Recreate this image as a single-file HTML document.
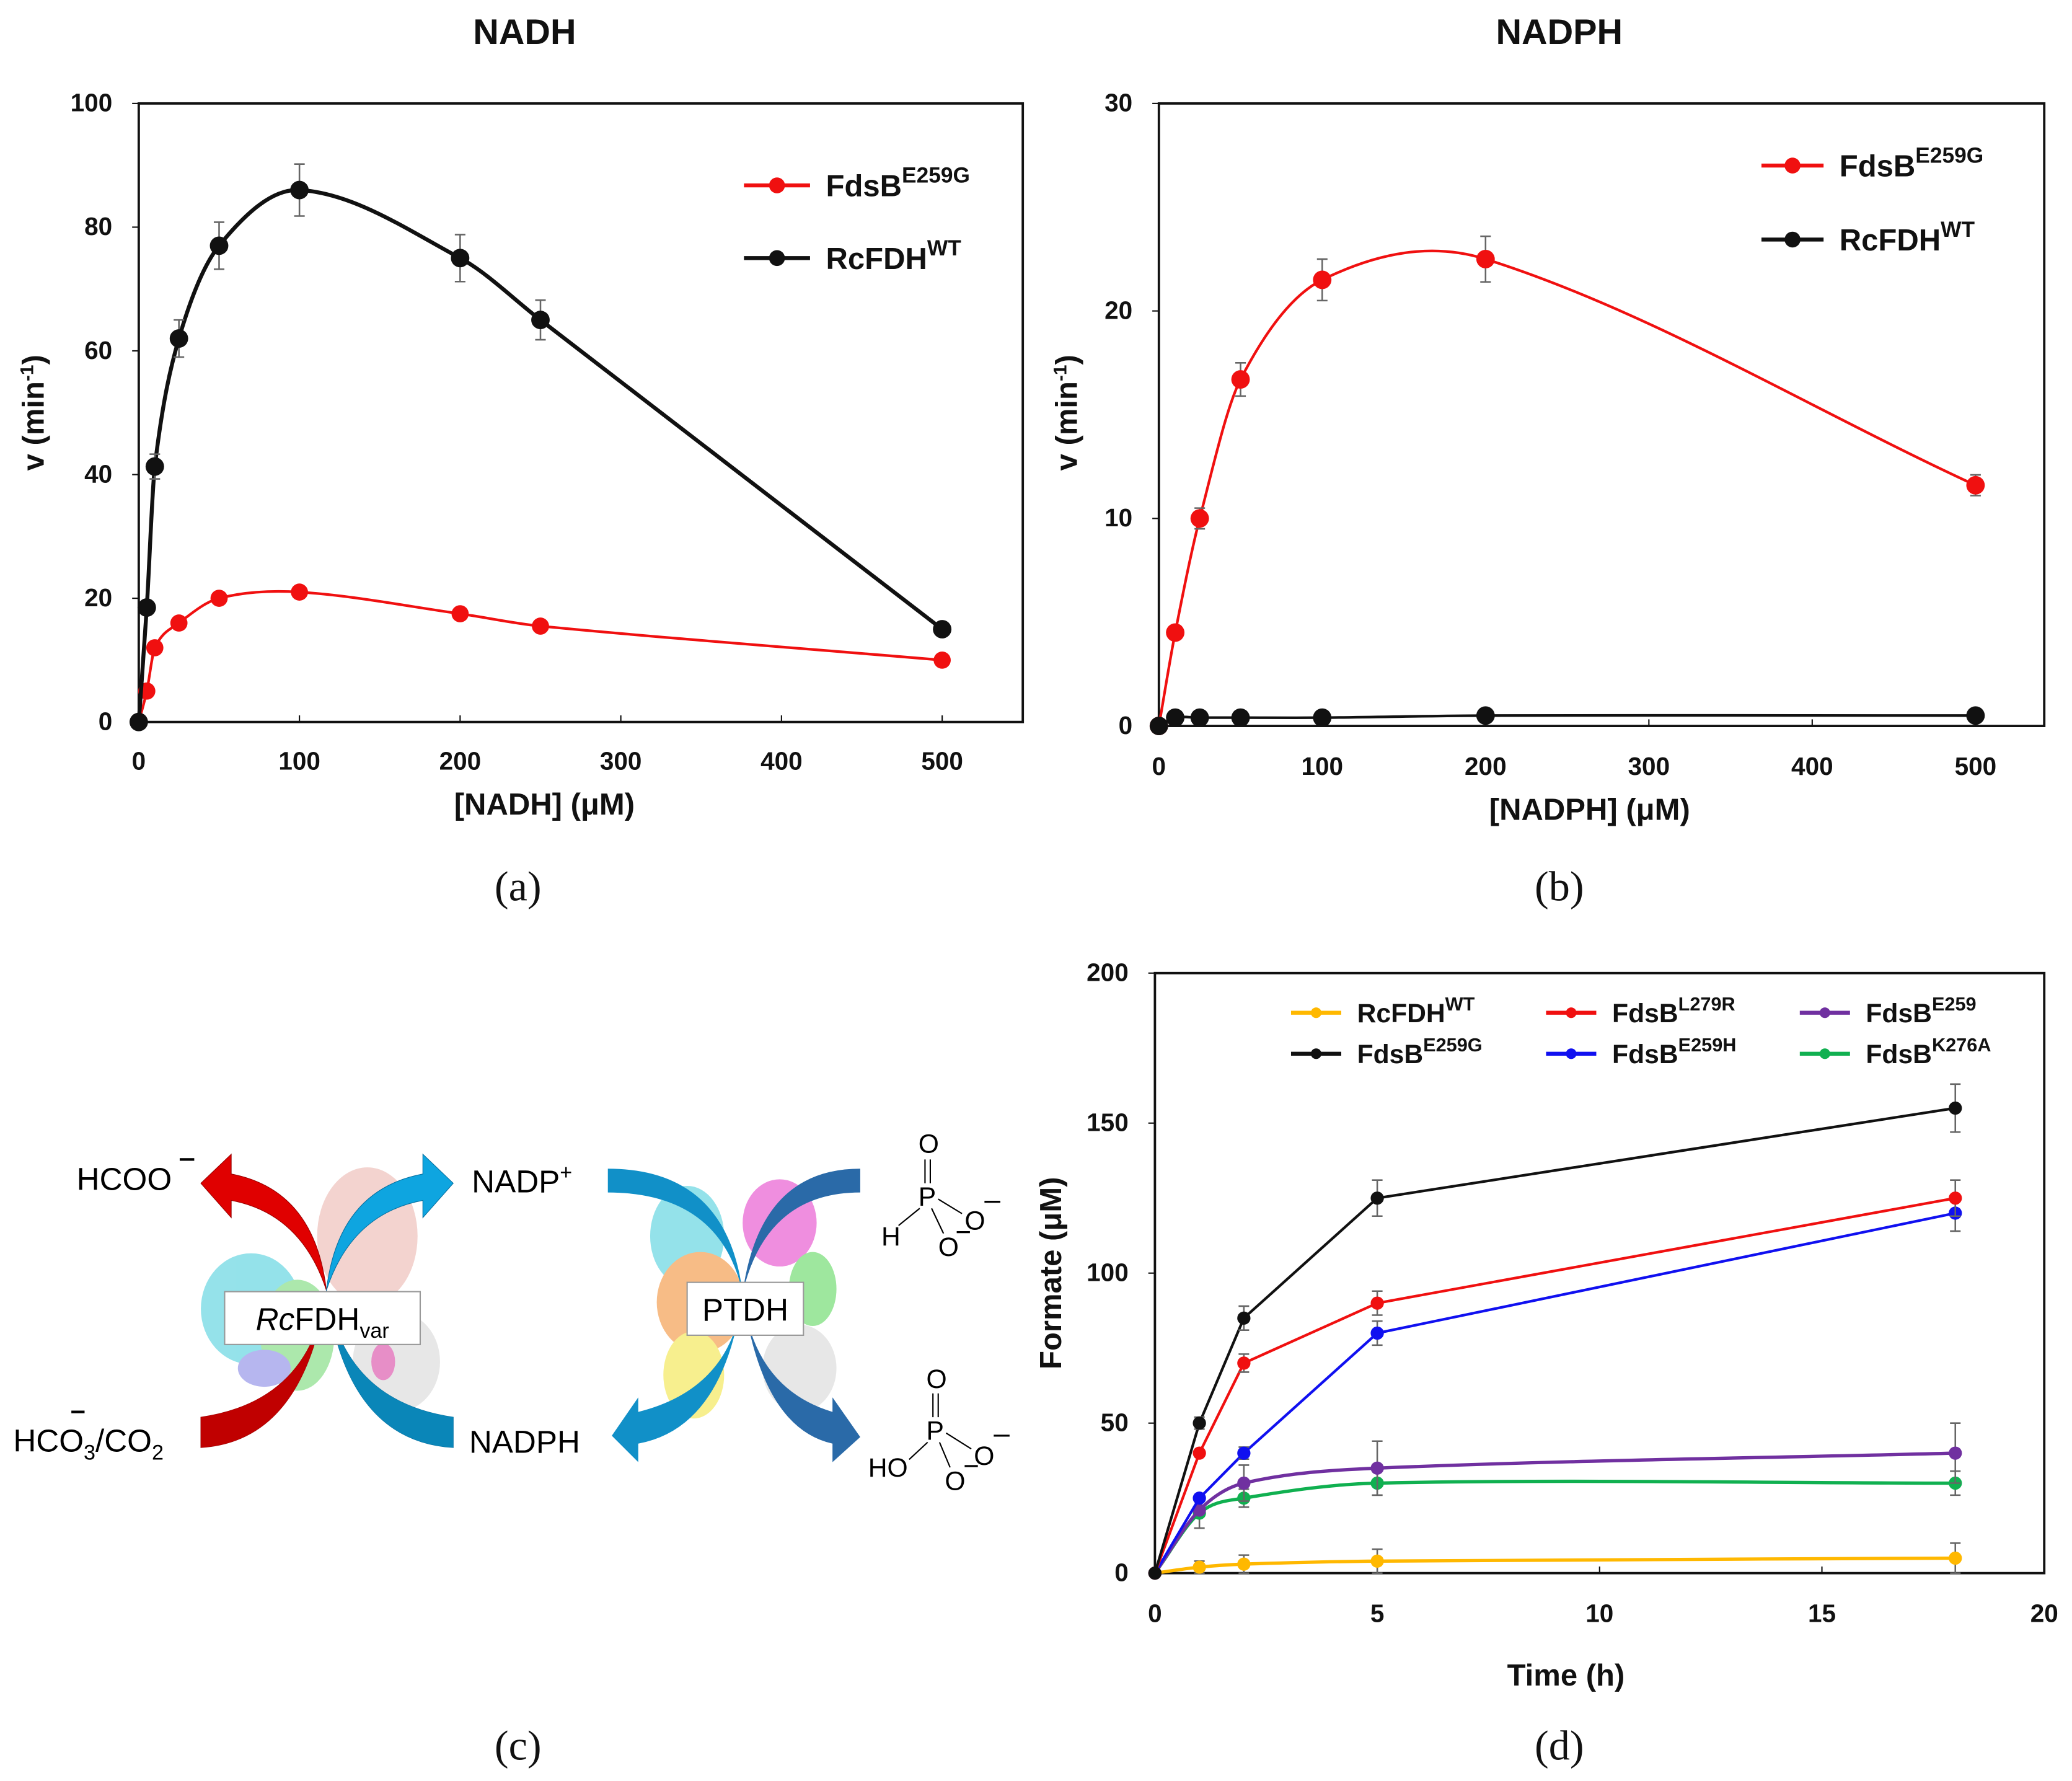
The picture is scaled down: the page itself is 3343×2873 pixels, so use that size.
<!DOCTYPE html>
<html><head><meta charset="utf-8"><style>
html,body{margin:0;padding:0;background:#fff}
svg{display:block}
text{font-family:"Liberation Sans",Arial,sans-serif}
.t{font-weight:bold;font-size:19px;fill:#111}
.lab{font-weight:bold;font-size:23px;fill:#111}
.cap{font-family:"Liberation Serif",serif;font-size:32px;fill:#111}
</style></head><body>
<svg id="fig" width="3343" height="2873" viewBox="0 0 1568 1347" xmlns="http://www.w3.org/2000/svg">
<g id="pa"></g>
<g id="pb"></g>
<g id="pd"></g>
<g id="pc">
  <g opacity="0.5">
    <ellipse cx="190" cy="990" rx="38" ry="42" fill="#2cc6d6"/>
    <ellipse cx="225" cy="1010" rx="28" ry="42" fill="#5bd35b"/>
    <ellipse cx="200" cy="1035" rx="20" ry="14" fill="#7070e0"/>
    <ellipse cx="278" cy="935" rx="38" ry="52" fill="#e8a8a0"/>
    <ellipse cx="300" cy="1030" rx="33" ry="38" fill="#d0d0d0"/>
    <ellipse cx="290" cy="1030" rx="9" ry="14" fill="#d02090"/>
  </g>
  <g opacity="0.5">
    <ellipse cx="520" cy="935" rx="28" ry="38" fill="#2cc6d6"/>
    <ellipse cx="530" cy="985" rx="33" ry="38" fill="#f07c10"/>
    <ellipse cx="525" cy="1040" rx="23" ry="33" fill="#f0e020"/>
    <ellipse cx="590" cy="925" rx="28" ry="33" fill="#e020c0"/>
    <ellipse cx="615" cy="975" rx="18" ry="28" fill="#40d040"/>
    <ellipse cx="605" cy="1035" rx="28" ry="33" fill="#d0d0d0"/>
  </g>
  <path fill="#e00000" stroke="#900" stroke-width="0.5" d="M152,1072 Q235,1060 247,976 Q238,900 175,888 L175,873 L152,895 L175,921 L175,908 Q228,918 247,976 Q230,1090 152,1095 Z"/>
  <path fill="#c00000" d="M152,1072 Q235,1060 247,976 Q230,1090 152,1095 Z"/>
  <path fill="#0ea5e0" stroke="#0770a0" stroke-width="0.5" d="M343,1072 Q260,1060 247,976 Q256,900 320,888 L320,873 L343,895 L320,921 L320,908 Q266,918 247,976 Q262,1090 343,1095 Z"/>
  <path fill="#0a86b8" d="M343,1072 Q260,1060 247,976 Q262,1090 343,1095 Z"/>
  <path fill="#1190c8" d="M460,884 Q550,884 562,978 Q555,1050 483,1068 L483,1057 L463,1086 L483,1106 L483,1092 Q548,1080 562,978 Q545,902 460,902 Z"/>
  <path fill="#2a6aa8" d="M651,884 Q575,884 562,978 Q570,1050 630,1068 L630,1057 L651,1087 L630,1106 L630,1092 Q576,1080 562,978 Q580,902 651,902 Z"/>
  <rect x="170" y="977" width="148" height="40" fill="#fff" stroke="#999" stroke-width="1"/>
  <text x="244" y="1006" text-anchor="middle" font-size="24" fill="#000"><tspan font-style="italic">Rc</tspan>FDH<tspan font-size="16" dy="6">var</tspan></text>
  <rect x="520" y="970" width="88" height="40" fill="#fff" stroke="#999" stroke-width="1"/>
  <text x="564" y="999" text-anchor="middle" font-size="24" fill="#000">PTDH</text>
  <text x="58" y="900" font-size="24" fill="#000">HCOO</text>
  <line x1="136" y1="877" x2="147" y2="877" stroke="#000" stroke-width="2"/>
  <text x="10" y="1098" font-size="24" fill="#000">HCO<tspan font-size="16" dy="6">3</tspan><tspan dy="-6">/CO</tspan><tspan font-size="16" dy="6">2</tspan></text>
  <line x1="54" y1="1068" x2="64" y2="1068" stroke="#000" stroke-width="2"/>
  <text x="357" y="902" font-size="24" fill="#000">NADP<tspan font-size="16" dy="-10">+</tspan></text>
  <text x="355" y="1099" font-size="24" fill="#000">NADPH</text>
  <g font-size="20" fill="#000">
    <text x="695" y="872">O</text><text x="695" y="912">P</text><text x="667" y="942">H</text><text x="730" y="930">O</text><text x="710" y="950">O</text>
    <line x1="700" y1="877" x2="700" y2="895" stroke="#000"/><line x1="704" y1="877" x2="704" y2="895" stroke="#000"/>
    <line x1="696" y1="914" x2="680" y2="927" stroke="#000"/><line x1="710" y1="907" x2="728" y2="918" stroke="#000"/><line x1="705" y1="914" x2="714" y2="933" stroke="#000"/>
    <line x1="745" y1="909" x2="757" y2="909" stroke="#000" stroke-width="1.5"/><line x1="724" y1="932" x2="734" y2="932" stroke="#000" stroke-width="1.5"/>
  </g>
  <g font-size="20" fill="#000">
    <text x="701" y="1050">O</text><text x="701" y="1089">P</text><text x="657" y="1117">HO</text><text x="737" y="1108">O</text><text x="715" y="1127">O</text>
    <line x1="706" y1="1054" x2="706" y2="1072" stroke="#000"/><line x1="710" y1="1054" x2="710" y2="1072" stroke="#000"/>
    <line x1="702" y1="1091" x2="688" y2="1104" stroke="#000"/><line x1="716" y1="1084" x2="735" y2="1096" stroke="#000"/><line x1="711" y1="1091" x2="719" y2="1110" stroke="#000"/>
    <line x1="752" y1="1086" x2="764" y2="1086" stroke="#000" stroke-width="1.5"/><line x1="730" y1="1109" x2="740" y2="1109" stroke="#000" stroke-width="1.5"/>
  </g>
</g>
<text class="cap" x="392" y="681" text-anchor="middle">(a)</text>
<text class="cap" x="1180" y="681" text-anchor="middle">(b)</text>
<text class="cap" x="392" y="1331" text-anchor="middle">(c)</text>
<text class="cap" x="1180" y="1331" text-anchor="middle">(d)</text>
</svg>
<script>
// ---- Panel a data ----
const aX = [0,5,10,25,50,100,200,250,500];
const aRed = [0,5,12,16,20,21,17.5,15.5,10];
const aBlack = [0,18.5,41.3,62,77,86,75,65,15];
const aBlackErr = [0,0,2,3,3.8,4.2,3.8,3.2,0];
const aXTicks = [0,100,200,300,400,500];
const aYTicks = [0,20,40,60,80,100];
// ---- Panel b data ----
const bX = [0,10,25,50,100,200,500];
const bRed = [0,4.5,10,16.7,21.5,22.5,11.6];
const bRedErr = [0,0,0.5,0.8,1,1.1,0.5];
const bBlack = [0,0.4,0.4,0.4,0.4,0.5,0.5];
const bXTicks = [0,100,200,300,400,500];
const bYTicks = [0,10,20,30];
// ---- Panel d data ----
const dT = [0,1,2,5,18];
const dWT = [0,2,3,4,5];
const dWTErr = [0,2,3,4,5];
const dE259G = [0,50,85,125,155];
const dE259GErr = [0,2,4,6,8];
const dL279R = [0,40,70,90,125];
const dL279RErr = [0,0,3,4,6];
const dE259H = [0,25,40,80,120];
const dE259HErr = [0,0,2,4,6];
const dE259 = [0,21,30,35,40];
const dE259Err = [0,0,6,9,10];
const dK276A = [0,20,25,30,30];
const dK276AErr = [0,5,3,4,4];
const dXTicks = [0,5,10,15,20];
const dYTicks = [0,50,100,150,200];

const NS='http://www.w3.org/2000/svg';
function mk(parent,tag,attrs){const e=document.createElementNS(NS,tag);for(const k in attrs)e.setAttribute(k,attrs[k]);parent.appendChild(e);return e;}
function smooth(pts){
  const n=pts.length,m=[];
  for(let i=0;i<n;i++){
    if(i===0)m.push((pts[1][1]-pts[0][1])/(pts[1][0]-pts[0][0]));
    else if(i===n-1)m.push((pts[n-1][1]-pts[n-2][1])/(pts[n-1][0]-pts[n-2][0]));
    else m.push((pts[i+1][1]-pts[i-1][1])/(pts[i+1][0]-pts[i-1][0]));
  }
  let d='M'+pts[0][0]+','+pts[0][1];
  for(let i=0;i<n-1;i++){const dx=(pts[i+1][0]-pts[i][0])/3;
    d+=' C'+(pts[i][0]+dx)+','+(pts[i][1]+m[i]*dx)+' '+(pts[i+1][0]-dx)+','+(pts[i+1][1]-m[i+1]*dx)+' '+pts[i+1][0]+','+pts[i+1][1];}
  return d;}
function straight(pts){return 'M'+pts.map(p=>p.join(',')).join(' L');}

function axes(g,box,sx,sy,xt,yt,cfg){
  const r=mk(g,'rect',{x:box.l,y:box.t,width:box.r-box.l,height:box.b-box.t,fill:'none',stroke:'#111','stroke-width':1.8});
  
  
  xt.forEach(v=>{const x=sx(v);mk(g,'line',{x1:x,x2:x,y1:box.b,y2:box.b-5,stroke:'#111'});
    const t=mk(g,'text',{x:x,y:box.b+cfg.xtOff,'text-anchor':'middle',class:'t'});t.textContent=v;
    
    });
  yt.forEach(v=>{const y=sy(v);mk(g,'line',{x1:box.l,x2:box.l-5,y1:y,y2:y,stroke:'#111'});
    const t=mk(g,'text',{x:box.l-cfg.ytOff,y:y+6,'text-anchor':'end',class:'t'});t.textContent=v;
    
    });
}
function series(g,sx,sy,xs,ys,errs,color,r,smoothIt,name,lw){
  const pts=xs.map((x,i)=>[sx(x),sy(ys[i])]);
  const p=mk(g,'path',{d:smoothIt?smooth(pts):straight(pts),fill:'none',stroke:color,'stroke-width':lw});
  
  
  if(errs)xs.forEach((x,i)=>{if(!errs[i])return;const X=sx(x),y1=sy(ys[i]+errs[i]),y2=sy(ys[i]-errs[i]);
    mk(g,'path',{d:`M${X},${y1} L${X},${y2} M${X-4},${y1} L${X+4},${y1} M${X-4},${y2} L${X+4},${y2}`,stroke:'#666','stroke-width':1.2,fill:'none'});});
  pts.forEach(pt=>{const c=mk(g,'circle',{cx:pt[0],cy:pt[1],r:r,fill:color});
    
    });
}
function legend(g,x,y,len,color,main,sup,fs,r){
  mk(g,'line',{x1:x,x2:x+len,y1:y,y2:y,stroke:color,'stroke-width':3});
  mk(g,'circle',{cx:x+len/2,cy:y,r:r,fill:color});
  const t=mk(g,'text',{x:x+len+12,y:y+fs*0.36,'font-weight':'bold','font-size':fs,fill:'#111'});
  
  
  t.innerHTML=main+'<tspan font-size="'+(fs*0.72)+'" dy="'+(-fs*0.45)+'">'+sup+'</tspan>';
}
function title(g,x,y,s,rot){const t=mk(g,'text',{x:x,y:y,'text-anchor':'middle',class:'lab'});if(rot)t.setAttribute('transform',`rotate(-90 ${x} ${y})`);t.innerHTML=s;
  
  return t;}

// Panel a
(function(){const g=document.getElementById('pa');const box={l:105,t:78,r:774,b:546};
const sx=v=>105+v*(713-105)/500, sy=v=>546-v*(546-78)/100;
axes(g,box,sx,sy,aXTicks,aYTicks,{xtOff:36,ytOff:20});
series(g,sx,sy,aX,aRed,null,'#f01010',6.5,true,'fdsb-e259g',2);
series(g,sx,sy,aX,aBlack,aBlackErr,'#111',7,true,'rcfdh-wt',3);
legend(g,563,140,50,'#f01010','FdsB','E259G',23,6);
legend(g,563,195,50,'#111','RcFDH','WT',23,6);
const tt=mk(g,'text',{x:397,y:33,'text-anchor':'middle','font-weight':'bold','font-size':27,fill:'#111'});tt.textContent='NADH';


title(g,412,616,'[NADH] (μM)');title(g,33,312,'v (min<tspan font-size="14" dy="-8">-1</tspan><tspan dy="8">)</tspan>',true);})();

// Panel b
(function(){const g=document.getElementById('pb');const box={l:877,t:78,r:1547,b:549};
const sx=v=>877+v*(1495-877)/500, sy=v=>549-v*(549-78)/30;
axes(g,box,sx,sy,bXTicks,bYTicks,{xtOff:37,ytOff:20});
series(g,sx,sy,bX,bRed,bRedErr,'#f01010',7,true,'fdsb-e259g',2);
series(g,sx,sy,bX,bBlack,null,'#111',7,true,'rcfdh-wt',2);
legend(g,1333,125,47,'#f01010','FdsB','E259G',23,6);
legend(g,1333,181,47,'#111','RcFDH','WT',23,6);
const tt=mk(g,'text',{x:1180,y:33,'text-anchor':'middle','font-weight':'bold','font-size':27,fill:'#111'});tt.textContent='NADPH';


title(g,1203,620,'[NADPH] (μM)');title(g,815,312,'v (min<tspan font-size="14" dy="-8">-1</tspan><tspan dy="8">)</tspan>',true);})();

// Panel d
(function(){const g=document.getElementById('pd');const box={l:874,t:736,r:1547,b:1190};
const sx=v=>874+v*(1547-874)/20, sy=v=>1190-v*(1190-736)/200;
axes(g,box,sx,sy,dXTicks,dYTicks,{xtOff:37,ytOff:20});
series(g,sx,sy,dT,dWT,dWTErr,'#ffb800',5,true,'rcfdh-wt',2.5);
series(g,sx,sy,dT,dK276A,dK276AErr,'#10b050',5,true,'fdsb-k276a',2.5);
series(g,sx,sy,dT,dE259,dE259Err,'#7030a0',5,true,'fdsb-e259',2.5);
series(g,sx,sy,dT,dE259H,dE259HErr,'#1010f0',5,false,'fdsb-e259h',2);
series(g,sx,sy,dT,dL279R,dL279RErr,'#f01010',5,false,'fdsb-l279r',2);
series(g,sx,sy,dT,dE259G,dE259GErr,'#111',5,false,'fdsb-e259g',2);
legend(g,977,766,38,'#ffb800','RcFDH','WT',20,4);
legend(g,977,797,38,'#111','FdsB','E259G',20,4);
legend(g,1170,766,38,'#f01010','FdsB','L279R',20,4);
legend(g,1170,797,38,'#1010f0','FdsB','E259H',20,4);
legend(g,1362,766,38,'#7030a0','FdsB','E259',20,4);
legend(g,1362,797,38,'#10b050','FdsB','K276A',20,4);
title(g,1185,1275,'Time (h)');title(g,803,963,'Formate (μM)',true);})();
</script>
</body></html>
